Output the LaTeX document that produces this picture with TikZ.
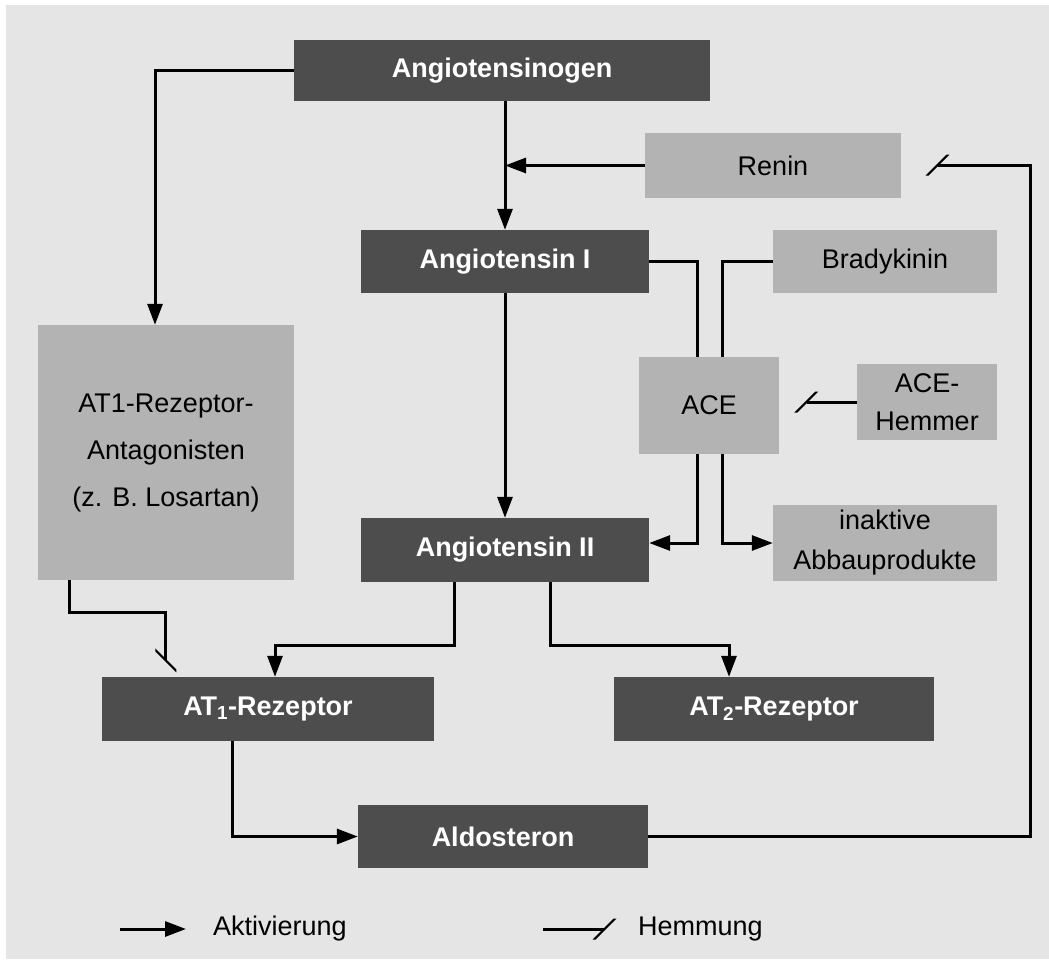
\documentclass[tikz,border=0pt]{standalone}
\usepackage{fontspec}
\setmainfont{Liberation Sans}
\usetikzlibrary{arrows.meta,calc}

\definecolor{dunkel}{HTML}{4D4D4D}
\definecolor{hell}{HTML}{B3B3B3}
\definecolor{grund}{HTML}{E5E5E5}

\tikzset{
  dunkelbox/.style={fill=dunkel, text=white, font=\fontsize{27}{32}\selectfont\bfseries,
    inner sep=0pt, minimum height=63pt},
  hellbox/.style={fill=hell, text=black, font=\fontsize{27}{40}\selectfont,
    inner sep=0pt, align=center},
  legende/.style={text=black, font=\fontsize{27}{32}\selectfont, inner sep=0pt},
  akt/.style={line width=3pt, -{Triangle[length=21pt,width=15pt]}},
  hemm/.style={line width=3pt, -{Bar[width=21pt,slant=1]}},
}

\begin{document}
\begin{tikzpicture}[x=1pt,y=-1pt]

  % Rahmen und Hintergrund
  \useasboundingbox (0,0) rectangle (1049,959);
  \fill[grund] (6,5) rectangle (1049,959);

  % Kaskade (dunkle Kaesten)
  \node[dunkelbox, minimum width=416pt, minimum height=61pt] (ago) at (502,70.5) {Angiotensinogen};
  \node[dunkelbox, minimum width=288pt] (ang1) at (505,261.5) {Angiotensin I};
  \node[dunkelbox, minimum width=288pt, minimum height=64pt] (ang2) at (505,550) {Angiotensin II};
  \node[dunkelbox, minimum width=332pt, minimum height=64pt] (at1) at (268,709) {AT\textsubscript{1}-Rezeptor};
  \node[dunkelbox, minimum width=320pt, minimum height=64pt] (at2) at (774,709) {AT\textsubscript{2}-Rezeptor};
  \node[dunkelbox, minimum width=290pt] (aldo) at (503,836.5) {Aldosteron};

  % Enzyme und Hemmstoffe (helle Kaesten)
  \node[hellbox, minimum width=256pt, minimum height=65pt] (renin) at (773,165.5) {Renin};
  \node[hellbox, minimum width=224pt, minimum height=63pt] (brady) at (885,261.5) {Bradykinin};
  \node[hellbox, minimum width=140pt, minimum height=97pt] (ace) at (709,405.5) {ACE};
  \node[hellbox, minimum width=140pt, minimum height=76pt] (hemmer) at (927,402) {ACE-\\[-2pt]Hemmer};
  \node[hellbox, minimum width=224pt, minimum height=76pt] (inakt) at (885,543) {inaktive\\Abbauprodukte};
  \node[hellbox, minimum width=256pt, minimum height=255pt] (ant) at (166,452.5)
    {AT1-Rezeptor-\\[7pt]Antagonisten\\[7pt](z. B. Losartan)};

  % Aktivierung
  \draw[akt] (ago.south -| ang1.north) -- (ang1.north);
  \draw[akt] (renin.west) -- (renin.west -| ang1.north);
  \draw[akt] (ang1) -- (ang2);
  \draw[akt] (ago.west) -| ($(ant.north)+(-11,0)$);
  \draw[akt] ($(ang2.south)+(-51,0)$) |- ($(at1.north)+(7,-31)$) -- ($(at1.north)+(7,0)$);
  \draw[akt] ($(ang2.south)+(45,0)$) |- ($(at2.north)+(-45,-31)$) -- ($(at2.north)+(-45,0)$);
  \draw[akt] ($(at1.south)+(-36,0)$) |- (aldo.west);

  % ACE: Spaltung von Angiotensin I und Bradykinin
  \draw[line width=3pt] (ang1.east) -| ($(ace.north)+(-12,0)$);
  \draw[line width=3pt] (brady.west) -| ($(ace.north)+(13,0)$);
  \draw[akt] ($(ace.south)+(-12,0)$) |- ($(ang2.east)+(0,-7)$);
  \draw[akt] ($(ace.south)+(13,0)$) |- (inakt.west);

  % Hemmung
  \coordinate (rueck) at (1030,165);
  \coordinate (reninhemm) at (936,165);
  \draw[hemm] (aldo.east) -| (rueck) -- (reninhemm);
  \draw[hemm] (hemmer.west) -- ($(hemmer.west)+(-52,0)$);
  \draw[hemm] ($(ant.south west)+(32,0)$) |- ($(at1.north west)+(64,-64)$)
    -- ($(at1.north west)+(64,-15)$);

  % Legende
  \coordinate (akt0) at (120,929);
  \coordinate (akt1) at (186,929);
  \draw[akt] (akt0) -- (akt1);
  \node[legende, anchor=west] (aktlabel) at (213,929) {Aktivierung};
  \coordinate (hem0) at (543,929);
  \coordinate (hem1) at (606,929);
  \draw[hemm] (hem0) -- (hem1);
  \node[legende, anchor=west] (hemlabel) at (638,929) {Hemmung};

\end{tikzpicture}
\end{document}
